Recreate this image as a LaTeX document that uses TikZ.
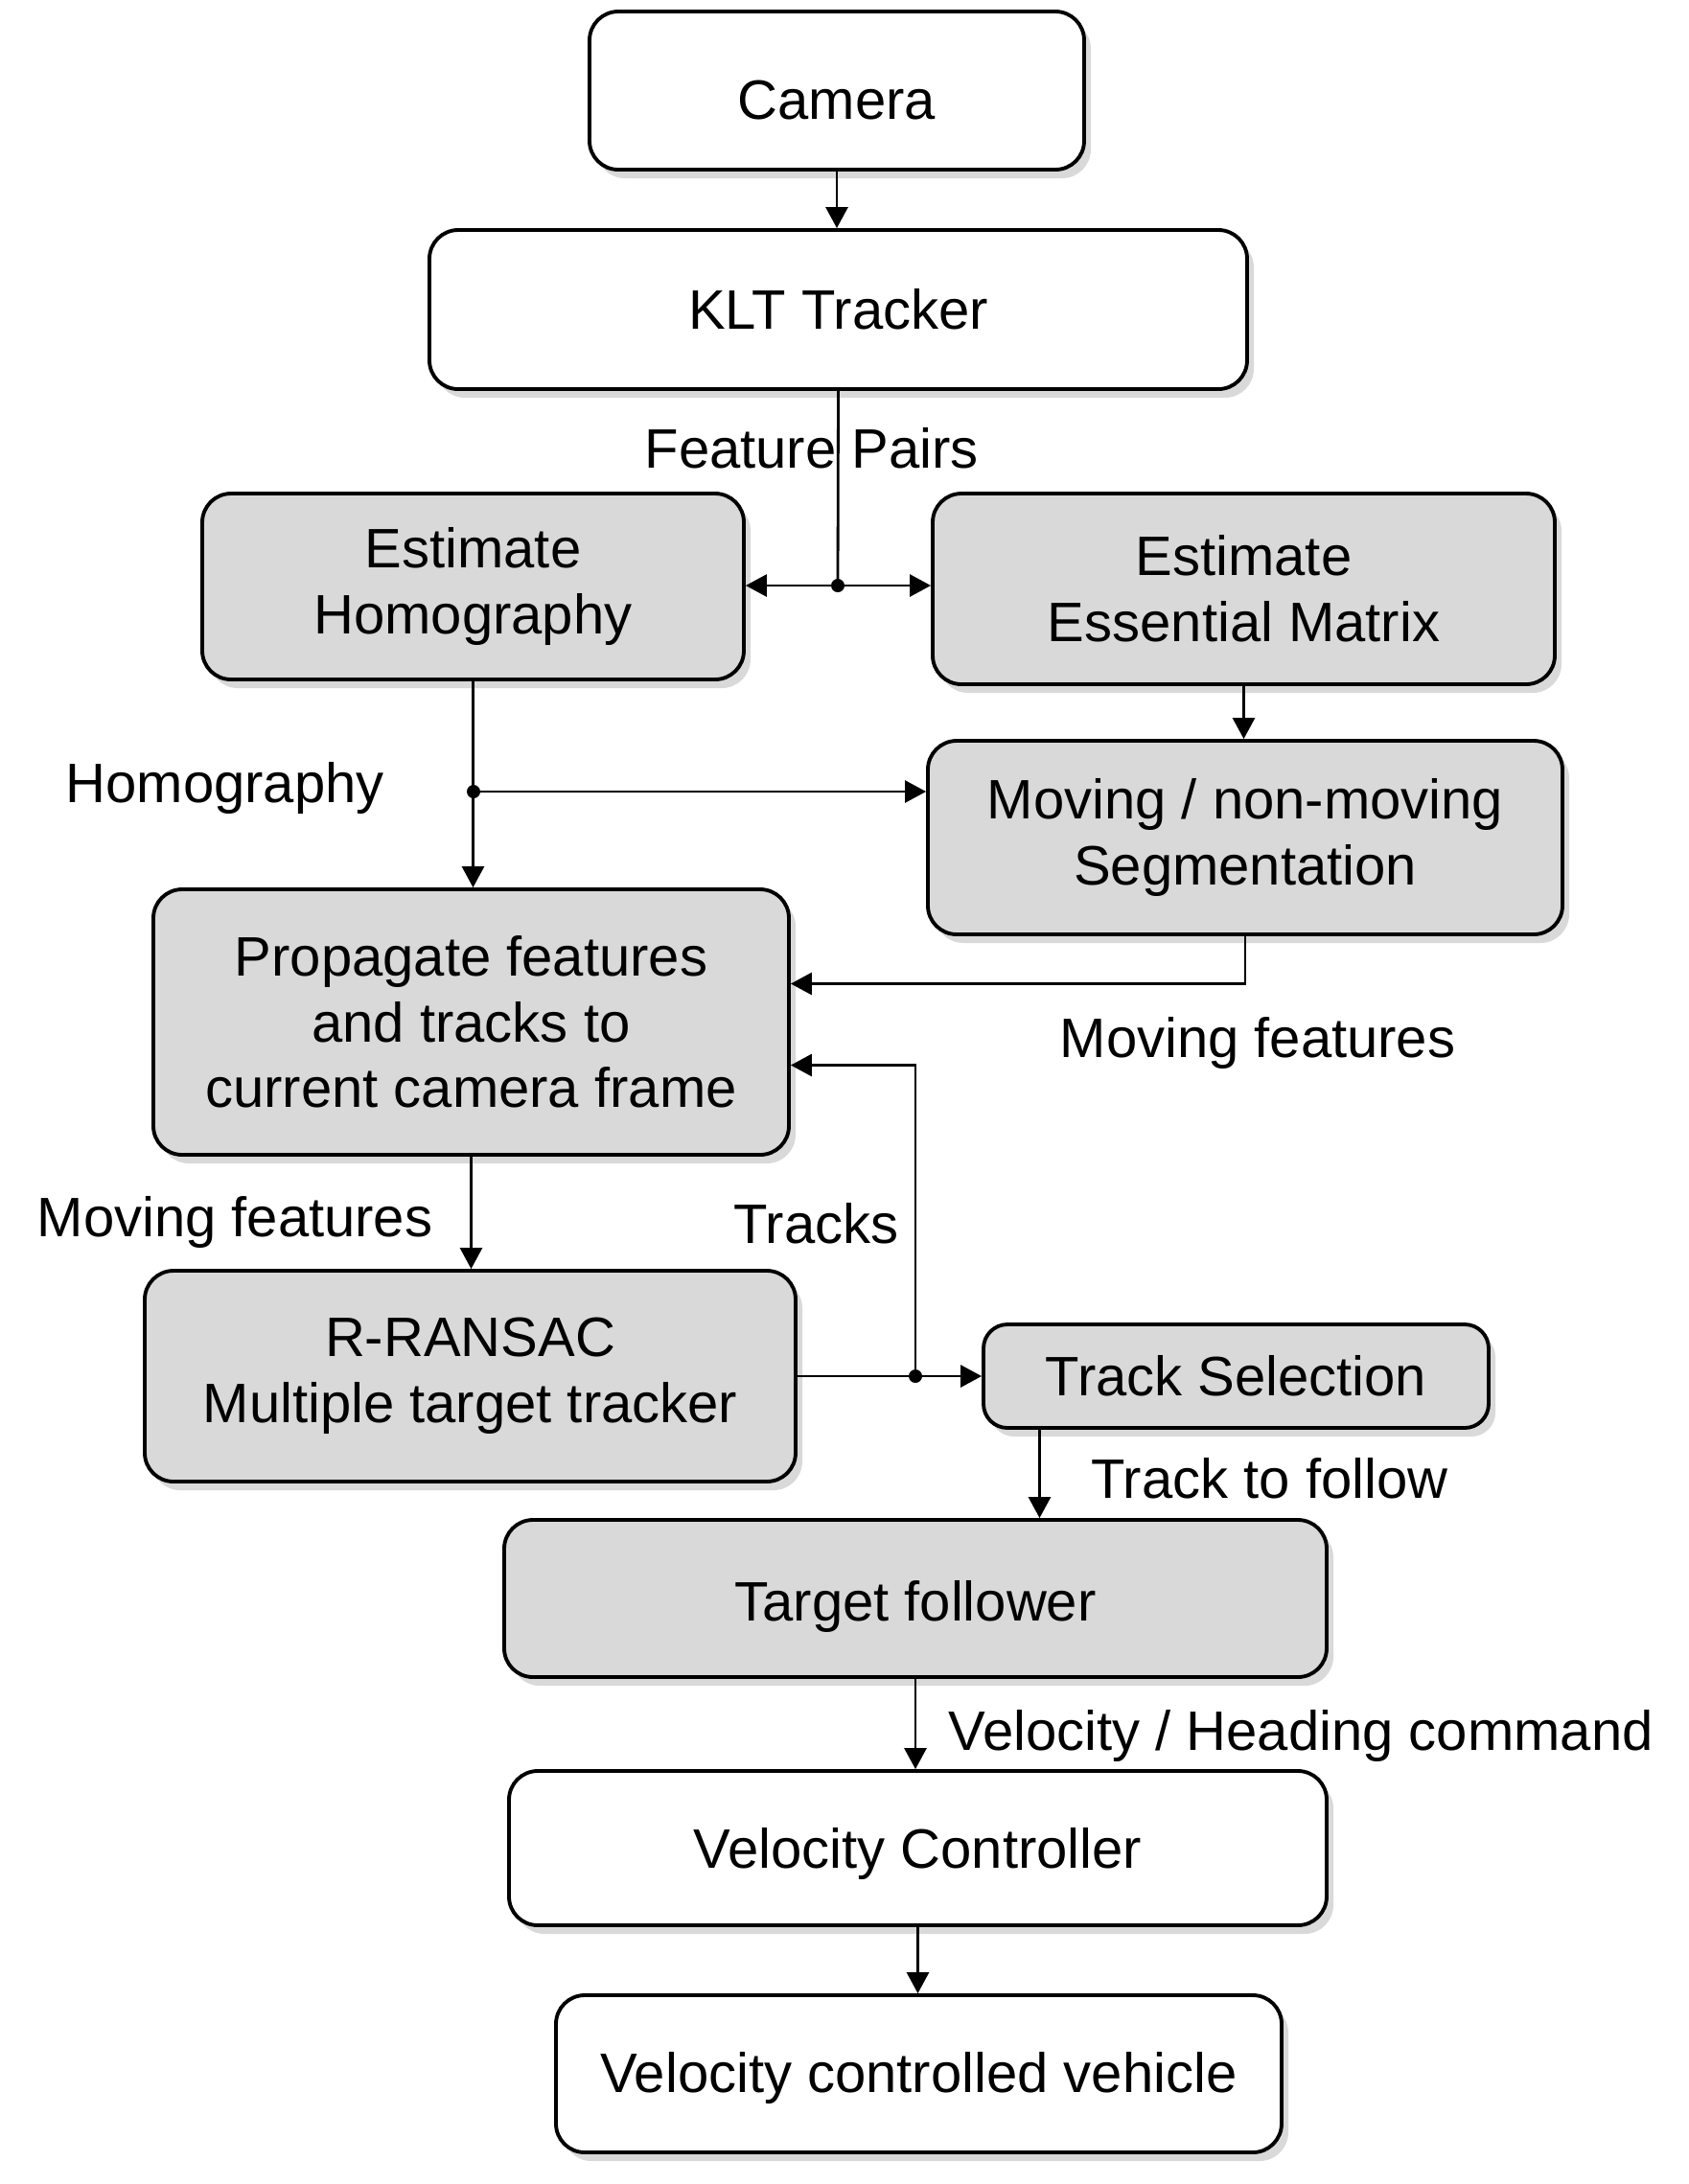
\documentclass[tikz,border=0pt]{standalone}
\usepackage{fontspec}
\setmainfont{Liberation Sans}
\usetikzlibrary{arrows.meta,shadows}
\definecolor{boxgray}{RGB}{217,217,217}

\begin{document}
\begin{tikzpicture}

 \tikzset{
    block/.style={draw, line width=1.1pt, rounded corners=3mm, fill=white,
      align=center, inner sep=0pt, font=\fontsize{16.5}{19.5}\selectfont,
      drop shadow={shadow xshift=0.7mm, shadow yshift=-0.9mm, opacity=0.3}},
    grayblock/.style={block, fill=boxgray},
    arr/.style={-{Triangle[length=2.2mm,width=2.3mm]}, line width=0.8pt},
    lbl/.style={anchor=base west, inner sep=0pt, font=\fontsize{16.5}{19.5}\selectfont},
  }

  \useasboundingbox (0,0) rectangle (17.62,-22.79);

  % blocks
  \node[block, minimum width=51.6mm, minimum height=16.5mm] (camera) at (8.73,-0.945) {\raisebox{-1mm}[\height][0pt]{Camera}};
  \node[block, minimum width=85.3mm, minimum height=16.6mm] (klt) at (8.745,-3.23) {KLT Tracker};
  \node[grayblock, minimum width=56.5mm, minimum height=19.4mm] (homog) at (4.935,-6.12) {Estimate\\Homography};
  \node[grayblock, minimum width=64.9mm, minimum height=19.9mm] (essential) at (12.975,-6.145) {Estimate\\Essential Matrix};
  \node[grayblock, minimum width=66.2mm, minimum height=20.2mm] (seg) at (12.99,-8.74) {Moving / non-moving\\Segmentation};
  \node[grayblock, minimum width=66.3mm, minimum height=27.7mm] (prop) at (4.915,-10.665) {Propagate features\\and tracks to\\current camera frame};
  \node[grayblock, minimum width=67.9mm, minimum height=22mm] (ransac) at (4.905,-14.36) {R-RANSAC\\Multiple target tracker};
  \node[grayblock, minimum width=52.7mm, minimum height=10.8mm, rounded corners=2.5mm] (tsel) at (12.895,-14.36) {Track Selection};
  \node[grayblock, minimum width=85.8mm, minimum height=16.4mm] (follower) at (9.55,-16.68) {\raisebox{-0.8mm}[\height][\depth]{Target follower}};
  \node[block, minimum width=85.3mm, minimum height=16.1mm] (velctrl) at (9.575,-19.285) {\raisebox{-0.6mm}[\height][\depth]{Velocity Controller}};
  \node[block, minimum width=75.7mm, minimum height=16.4mm] (vehicle) at (9.585,-21.64) {\raisebox{-0.4mm}[\height][\depth]{Velocity controlled vehicle}};

  % branch points
  \coordinate (fp) at (8.74,-6.11);
  \coordinate (hg) at (4.94,-8.26);
  \coordinate (tr) at (9.55,-14.36);

  % connectors
  \draw[arr] (camera.south) -- (camera.south |- klt.north);
  \draw[line width=0.8pt] (klt.south) -- (fp);
  \draw[arr] (fp) -- (fp -| homog.east);
  \draw[arr] (fp) -- (fp -| essential.west);
  \draw[arr] (essential.south) -- (essential.south |- seg.north);
  \draw[arr] (homog.south) -- (homog.south |- prop.north);
  \draw[arr] (hg) -- (hg -| seg.west);
  \draw[arr] (seg.south) |- ([yshift=4mm]prop.east);
  \draw[arr] (tr) |- ([yshift=-4.5mm]prop.east);
  \draw[arr] (prop.south) -- (prop.south |- ransac.north);
  \draw[arr] (ransac.east) -- (tsel.west);
  \draw[arr] ([xshift=-20.5mm]tsel.south) -- ([xshift=-20.5mm]tsel.south |- follower.north);
  \draw[arr] (follower.south) -- (follower.south |- velctrl.north);
  \draw[arr] (velctrl.south) -- (velctrl.south |- vehicle.north);

  \foreach \p in {fp,hg,tr}
    \fill (\p) circle (0.07);

  % labels
  \node[lbl] (lfp) at (6.72,-4.88) {Feature Pairs};
  \node[lbl] (lhg) at (0.68,-8.37) {Homography};
  \node[lbl] (lmfr) at (11.05,-11.03) {Moving features};
  \node[lbl] (lmfl) at (0.38,-12.90) {Moving features};
  \node[lbl] (ltr) at (7.65,-12.97) {Tracks};
  \node[lbl] (ltf) at (11.38,-15.63) {Track to follow};
  \node[lbl] (lvh) at (9.89,-18.26) {Velocity / Heading command};

\end{tikzpicture}
\end{document}
